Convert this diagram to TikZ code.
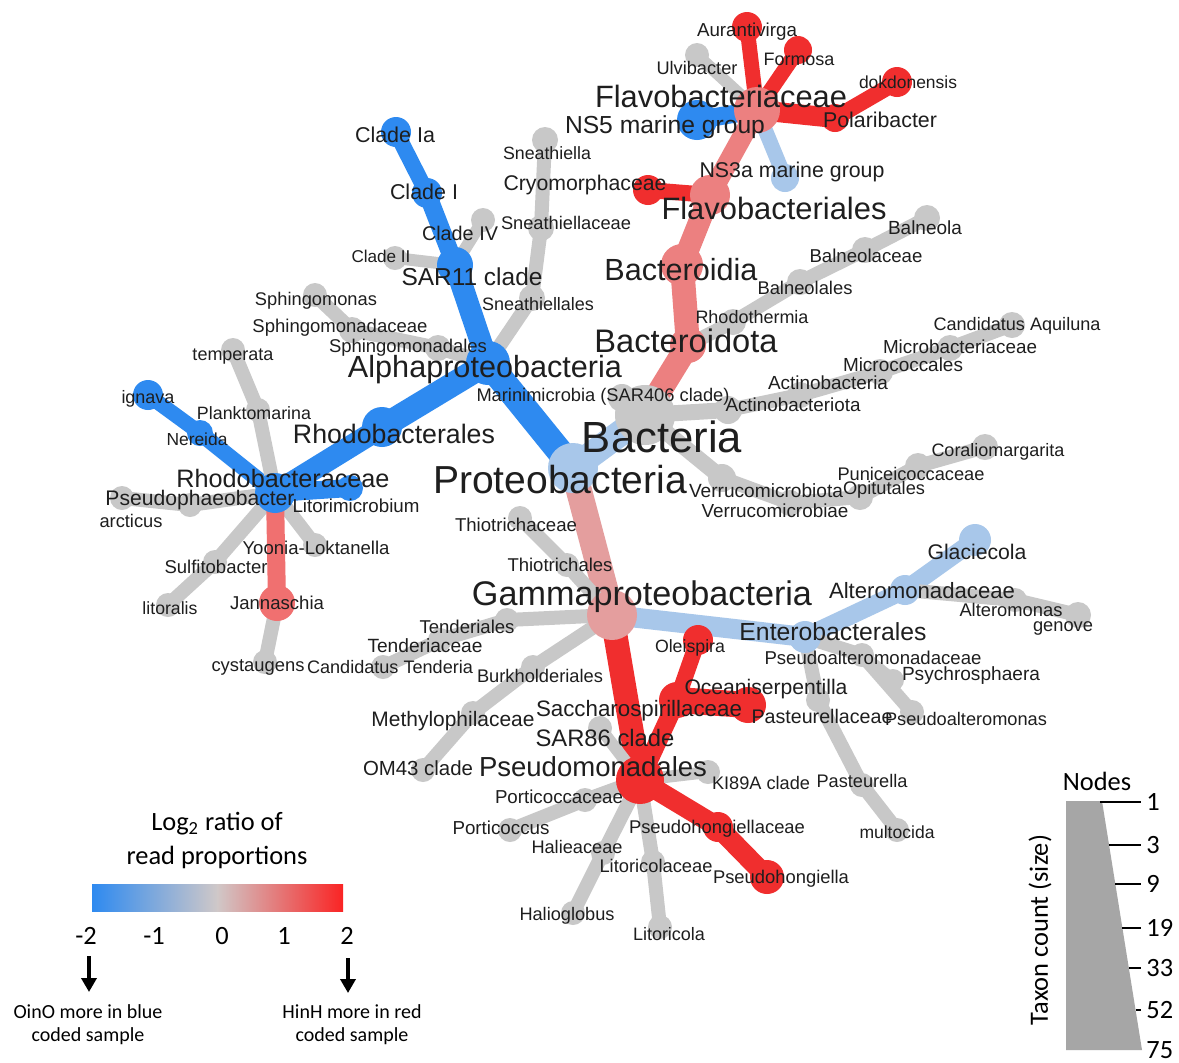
\documentclass[tikz,border=0pt]{standalone}
\usepackage{fontspec}
\setmainfont{Liberation Sans}
\newfontfamily\legfont{Carlito}
\usepackage{graphicx}
\usepackage{xcolor}
\usepackage{tikz}
\usetikzlibrary{arrows.meta}
\pgfdeclarelayer{bg}
\pgfsetlayers{bg,main}

\definecolor{tblue}{RGB}{46,138,240}
\definecolor{tlblue}{RGB}{168,199,234}
\definecolor{tgrey}{RGB}{200,200,200}
\definecolor{tpale}{RGB}{228,158,158}
\definecolor{tpink}{RGB}{236,128,128}
\definecolor{tsalm}{RGB}{240,112,112}
\definecolor{tred}{RGB}{240,46,46}
\definecolor{barmid}{RGB}{208,200,200}
\definecolor{barpink}{RGB}{240,140,140}
\definecolor{barred}{RGB}{250,36,36}
\definecolor{sizegrey}{RGB}{166,166,166}
\definecolor{labgrey}{RGB}{30,30,30}

\newdimen\pxu \pxu=0.5pt
\tikzset{
  branch/.style={line cap=round},
  taxlab/.style={inner sep=0pt, text=labgrey},
  legtext/.style={inner sep=0pt, font=\legfont\fontsize{13.2}{15}\selectfont},
  legsmall/.style={inner sep=0pt, font=\legfont\fontsize{10}{12}\selectfont},
  legarrow/.style={line width=2pt, -{Triangle[length=7pt,width=7.5pt]}},
}
% taxon: name, parent, position, colour, node radius, branch width (px)
\newcommand{\taxon}[6]{%
  \coordinate (#1) at (#3);
  \begin{pgfonlayer}{bg}
    \draw[branch, #4, line width=#6*0.5pt] (#2) -- (#1);
  \end{pgfonlayer}
  \fill[#4] (#1) circle[radius=#5];
}
% label: name, position, width (px), text
\newcommand{\tlab}[4]{\node[taxlab] (l#1) at (#2) {\resizebox{#3\pxu}{!}{#4}};}

\begin{document}
\begin{tikzpicture}[x=0.5pt,y=-0.5pt]
	\begin{pgfonlayer}{bg}
		\fill[white] (0,0) rectangle (1179,1062);
	\end{pgfonlayer}
	\useasboundingbox (0,0) rectangle (1179,1062);

	% tree
	\coordinate (bac) at (645,415);
	\fill[tgrey] (bac) circle[radius=30];
	\taxon{prot}{bac}{573,468}{tlblue}{25}{26}
	\taxon{mari}{bac}{622,398}{tgrey}{14}{14}
	\taxon{acti}{bac}{728,410}{tgrey}{14}{16}
	\taxon{actb}{acti}{800,395}{tgrey}{13}{14}
	\taxon{micc}{actb}{880,372}{tgrey}{13}{14}
	\taxon{micb}{micc}{950,348}{tgrey}{13}{14}
	\taxon{aqui}{micb}{1012,325}{tgrey}{13}{14}
	\taxon{verr}{bac}{722,478}{tgrey}{14}{16}
	\taxon{verb}{verr}{790,503}{tgrey}{13}{14}
	\taxon{opit}{verb}{860,497}{tgrey}{13}{14}
	\taxon{puni}{opit}{918,466}{tgrey}{13}{14}
	\taxon{cora}{puni}{985,447}{tgrey}{13}{14}
	\taxon{bctd}{bac}{688,345}{tpink}{18}{24}
	\taxon{rhot}{bctd}{733,322}{tgrey}{13}{14}
	\taxon{balo}{rhot}{800,282}{tgrey}{13}{14}
	\taxon{bala}{balo}{865,250}{tgrey}{13}{14}
	\taxon{baln}{bala}{927,218}{tgrey}{13}{14}
	\taxon{bcti}{bctd}{682,265}{tpink}{21}{24}
	\taxon{flvo}{bcti}{710,195}{tpink}{20}{22}
	\taxon{cryo}{flvo}{648,190}{tred}{15}{16}
	\taxon{flvc}{flvo}{757,110}{tpink}{23}{20}
	\taxon{ns5}{flvc}{697,120}{tblue}{20}{18}
	\taxon{ulvi}{flvc}{697,55}{tgrey}{12}{12}
	\taxon{aura}{flvc}{747,27}{tred}{15}{15}
	\taxon{form}{flvc}{798,50}{tred}{14}{15}
	\taxon{pola}{flvc}{835,118}{tred}{14}{20}
	\taxon{dokd}{pola}{897,82}{tred}{15}{16}
	\taxon{ns3a}{flvc}{785,178}{tlblue}{14}{15}
	\taxon{alph}{prot}{488,363}{tblue}{22}{26}
	\taxon{sar11}{alph}{455,265}{tblue}{18}{22}
	\taxon{clI}{sar11}{427,193}{tblue}{15}{18}
	\taxon{clIa}{clI}{396,132}{tblue}{15}{16}
	\taxon{clIV}{sar11}{483,220}{tgrey}{12}{12}
	\taxon{clII}{sar11}{395,258}{tgrey}{12}{12}
	\taxon{snea}{alph}{532,298}{tgrey}{13}{14}
	\taxon{sneaf}{snea}{541,228}{tgrey}{13}{14}
	\taxon{sneag}{sneaf}{545,140}{tgrey}{13}{14}
	\taxon{sphi}{alph}{438,348}{tgrey}{13}{14}
	\taxon{sphf}{sphi}{352,330}{tgrey}{13}{14}
	\taxon{sphg}{sphf}{315,295}{tgrey}{12}{14}
	\taxon{rhob}{alph}{382,427}{tblue}{20}{24}
	\taxon{rhof}{rhob}{275,493}{tblue}{20}{22}
	\taxon{litm}{rhof}{350,488}{tblue}{13}{18}
	\taxon{nere}{rhof}{200,433}{tblue}{13}{16}
	\taxon{igna}{nere}{148,395}{tblue}{15}{15}
	\taxon{plkt}{rhof}{258,410}{tgrey}{12}{14}
	\taxon{temp}{plkt}{233,350}{tgrey}{12}{14}
	\taxon{psph}{rhof}{190,505}{tgrey}{12}{14}
	\taxon{arct}{psph}{122,498}{tgrey}{12}{14}
	\taxon{yoon}{rhof}{315,545}{tgrey}{12}{14}
	\taxon{sulf}{rhof}{215,562}{tgrey}{12}{14}
	\taxon{lito}{sulf}{168,605}{tgrey}{12}{14}
	\taxon{jann}{rhof}{277,603}{tsalm}{18}{18}
	\taxon{cyst}{jann}{265,662}{tgrey}{12}{14}
	\taxon{gamm}{prot}{612,615}{tpale}{25}{26}
	\taxon{thio}{gamm}{567,565}{tgrey}{12}{14}
	\taxon{thif}{thio}{520,518}{tgrey}{12}{14}
	\taxon{tend}{gamm}{507,620}{tgrey}{12}{14}
	\taxon{tenf}{tend}{440,640}{tgrey}{12}{14}
	\taxon{tent}{tenf}{383,667}{tgrey}{12}{14}
	\taxon{burk}{gamm}{533,667}{tgrey}{12}{14}
	\taxon{meth}{burk}{473,713}{tgrey}{12}{14}
	\taxon{om43}{meth}{423,770}{tgrey}{12}{14}
	\taxon{pseu}{gamm}{640,780}{tred}{24}{24}
	\taxon{sacc}{pseu}{677,700}{tred}{18}{18}
	\taxon{olei}{sacc}{698,640}{tred}{15}{16}
	\taxon{ocea}{sacc}{748,705}{tred}{18}{26}
	\taxon{sar86}{pseu}{600,728}{tgrey}{12}{12}
	\taxon{ki89}{pseu}{708,772}{tgrey}{12}{12}
	\taxon{phof}{pseu}{718,827}{tred}{15}{20}
	\taxon{phog}{phof}{767,877}{tred}{17}{20}
	\taxon{porf}{pseu}{585,800}{tgrey}{12}{14}
	\taxon{porg}{porf}{510,830}{tgrey}{12}{14}
	\taxon{half}{pseu}{603,853}{tgrey}{12}{14}
	\taxon{halg}{half}{573,913}{tgrey}{12}{14}
	\taxon{ltcf}{pseu}{653,862}{tgrey}{12}{14}
	\taxon{ltcg}{ltcf}{660,927}{tgrey}{12}{14}
	\taxon{ente}{gamm}{805,637}{tlblue}{16}{20}
	\taxon{altf}{ente}{905,590}{tlblue}{15}{18}
	\taxon{glac}{altf}{975,540}{tlblue}{16}{18}
	\taxon{altg}{altf}{1015,600}{tgrey}{12}{14}
	\taxon{geno}{altg}{1078,615}{tgrey}{13}{14}
	\taxon{psaf}{ente}{862,655}{tgrey}{12}{14}
	\taxon{psyc}{psaf}{893,680}{tgrey}{11}{12}
	\taxon{psag}{psaf}{912,712}{tgrey}{12}{14}
	\taxon{pasf}{ente}{818,700}{tgrey}{12}{14}
	\taxon{pasg}{pasf}{862,785}{tgrey}{12}{14}
	\taxon{mult}{pasg}{897,830}{tgrey}{12}{14}

	% labels
	\tlab{bac}{662,437}{160}{Bacteria}
	\tlab{prot}{560,480}{254}{Proteobacteria}
	\tlab{mari}{603,397}{253}{Marinimicrobia (SAR406 clade)}
	\tlab{acti}{793,405}{135}{Actinobacteriota}
	\tlab{actb}{828,383}{120}{Actinobacteria}
	\tlab{micc}{903,365}{120}{Micrococcales}
	\tlab{micb}{960,347}{154}{Microbacteriaceae}
	\tlab{aqui}{1017,326}{167}{Candidatus Aquiluna}
	\tlab{verr}{766,491}{154}{Verrucomicrobiota}
	\tlab{verb}{775,511}{147}{Verrucomicrobiae}
	\tlab{opit}{884,490}{82}{Opitutales}
	\tlab{puni}{911,474}{147}{Puniceicoccaceae}
	\tlab{cora}{998,452}{133}{Coraliomargarita}
	\tlab{bctd}{686,341}{183}{Bacteroidota}
	\tlab{rhot}{752,317}{113}{Rhodothermia}
	\tlab{balo}{805,288}{95}{Balneolales}
	\tlab{bala}{866,256}{113}{Balneolaceae}
	\tlab{baln}{925,228}{74}{Balneola}
	\tlab{bcti}{681,270}{153}{Bacteroidia}
	\tlab{flvo}{774,208}{225}{Flavobacteriales}
	\tlab{cryo}{585,185}{163}{Cryomorphaceae}
	\tlab{flvc}{721,96}{252}{Flavobacteriaceae}
	\tlab{ns5}{665,127}{200}{NS5 marine group}
	\tlab{ulvi}{697,68}{81}{Ulvibacter}
	\tlab{aura}{747,32}{100}{Aurantivirga}
	\tlab{form}{799,59}{71}{Formosa}
	\tlab{pola}{880,120}{114}{Polaribacter}
	\tlab{dokd}{908,82}{98}{dokdonensis}
	\tlab{ns3a}{792,172}{185}{NS3a marine group}
	\tlab{alph}{485,370}{274}{Alphaproteobacteria}
	\tlab{sar11}{472,277}{141}{SAR11 clade}
	\tlab{clI}{424,192}{68}{Clade I}
	\tlab{clIa}{395,135}{80}{Clade Ia}
	\tlab{clIV}{460,233}{76}{Clade IV}
	\tlab{clII}{381,256}{59}{Clade II}
	\tlab{snea}{538,304}{112}{Sneathiellales}
	\tlab{sneaf}{566,223}{130}{Sneathiellaceae}
	\tlab{sneag}{547,153}{88}{Sneathiella}
	\tlab{sphi}{408,348}{158}{Sphingomonadales}
	\tlab{sphf}{340,328}{175}{Sphingomonadaceae}
	\tlab{sphg}{316,301}{122}{Sphingomonas}
	\tlab{rhob}{394,434}{202}{Rhodobacterales}
	\tlab{rhof}{283,478}{213}{Rhodobacteraceae}
	\tlab{litm}{356,506}{127}{Litorimicrobium}
	\tlab{nere}{197,439}{61}{Nereida}
	\tlab{igna}{148,399}{53}{ignava}
	\tlab{plkt}{254,413}{114}{Planktomarina}
	\tlab{temp}{233,357}{81}{temperata}
	\tlab{psph}{200,500}{189}{Pseudophaeobacter}
	\tlab{arct}{131,521}{63}{arcticus}
	\tlab{yoon}{316,548}{147}{Yoonia-Loktanella}
	\tlab{sulf}{216,567}{103}{Sulfitobacter}
	\tlab{lito}{170,608}{55}{litoralis}
	\tlab{jann}{277,603}{94}{Jannaschia}
	\tlab{cyst}{258,667}{93}{cystaugens}
	\tlab{gamm}{642,597}{340}{Gammaproteobacteria}
	\tlab{thio}{560,565}{105}{Thiotrichales}
	\tlab{thif}{516,525}{122}{Thiotrichaceae}
	\tlab{tend}{467,627}{95}{Tenderiales}
	\tlab{tenf}{425,646}{115}{Tenderiaceae}
	\tlab{tent}{390,667}{166}{Candidatus Tenderia}
	\tlab{burk}{540,676}{126}{Burkholderiales}
	\tlab{meth}{453,721}{163}{Methylophilaceae}
	\tlab{om43}{418,768}{110}{OM43 clade}
	\tlab{pseu}{593,767}{228}{Pseudomonadales}
	\tlab{sacc}{639,711}{206}{Saccharospirillaceae}
	\tlab{olei}{690,648}{70}{Oleispira}
	\tlab{ocea}{766,689}{163}{Oceaniserpentilla}
	\tlab{sar86}{605,738}{139}{SAR86 clade}
	\tlab{ki89}{761,783}{98}{KI89A clade}
	\tlab{phof}{717,829}{176}{Pseudohongiellaceae}
	\tlab{phog}{781,879}{136}{Pseudohongiella}
	\tlab{porf}{559,797}{128}{Porticoccaceae}
	\tlab{porg}{501,828}{97}{Porticoccus}
	\tlab{half}{577,847}{91}{Halieaceae}
	\tlab{halg}{567,916}{95}{Halioglobus}
	\tlab{ltcf}{656,866}{113}{Litoricolaceae}
	\tlab{ltcg}{669,934}{72}{Litoricola}
	\tlab{ente}{833,632}{187}{Enterobacterales}
	\tlab{altf}{922,591}{186}{Alteromonadaceae}
	\tlab{glac}{977,552}{99}{Glaciecola}
	\tlab{altg}{1011,610}{103}{Alteromonas}
	\tlab{geno}{1063,628}{60}{genove}
	\tlab{psaf}{873,658}{217}{Pseudoalteromonadaceae}
	\tlab{psyc}{971,676}{138}{Psychrosphaera}
	\tlab{psag}{966,719}{162}{Pseudoalteromonas}
	\tlab{pasf}{822,716}{141}{Pasteurellaceae}
	\tlab{pasg}{862,781}{91}{Pasteurella}
	\tlab{mult}{897,832}{75}{multocida}

	% colour key
	\node[legtext] (logtitle) at (217,824) {Log\textsubscript{2} ratio of};
	\node[legtext] (readprop) at (217,857) {read proportions};
	\shade[left color=tblue, middle color=tlblue, right color=barmid] (92,884) rectangle (218,911);
	\shade[left color=barmid, middle color=barpink, right color=barred] (217,884) rectangle (343,911);
	\node[legtext] (tkm2) at (86,936) {-2};
	\node[legtext] (tkm1) at (154,936) {-1};
	\node[legtext] (tk0) at (222,936) {0};
	\node[legtext] (tk1) at (284,936) {1};
	\node[legtext] (tk2) at (347,936) {2};
	\coordinate (bluetop) at (89,956);
	\coordinate (bluebot) at (89,992);
	\coordinate (redtop) at (348,958);
	\coordinate (redbot) at (348,993);
	\draw[legarrow] (bluetop) -- (bluebot);
	\draw[legarrow] (redtop) -- (redbot);
	\node[legsmall] (oino) at (88,1012) {OinO more in blue};
	\node[legsmall] (oinocs) at (88,1036) {coded sample};
	\node[legsmall] (hinh) at (352,1012) {HinH more in red};
	\node[legsmall] (hinhcs) at (352,1036) {coded sample};

	% size key
	\node[legtext] (nodes) at (1097,781) {Nodes};
	\fill[sizegrey] (1066,801) -- (1102,801) -- (1142,1050) -- (1066,1050) -- cycle;
	\foreach \y/\xs/\t in {802/1100/1, 845/1109/3, 884/1115/9, 928/1122/19, 968/1129/33, 1010/1136/52} {
		\draw[line width=0.7pt] (\xs,\y) -- (1141,\y);
		\node[legtext, anchor=west] (sz\t) at (1146,\y) {\t};
	}
	\node[legtext, anchor=west] (sz75) at (1146,1050) {75};
	\node[legtext, rotate=90] (taxoncount) at (1040,930) {Taxon count (size)};
\end{tikzpicture}
\end{document}
